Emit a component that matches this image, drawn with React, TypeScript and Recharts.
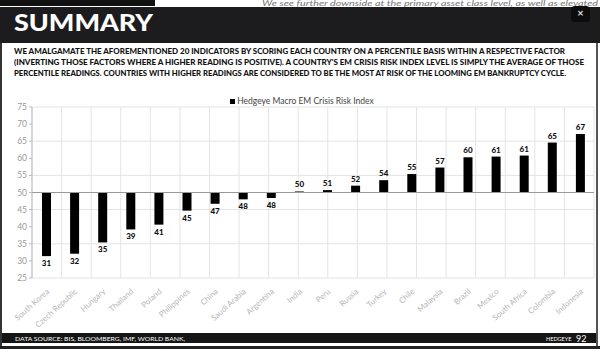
import React from 'react';
import { BarChart, Bar, XAxis, YAxis, CartesianGrid, Legend, LabelList, ReferenceLine } from 'recharts';

const countries = [
  'South Korea', 'Czech Republic', 'Hungary', 'Thailand', 'Poland', 'Philippines', 'China',
  'Saudi Arabia', 'Argentina', 'India', 'Peru', 'Russia', 'Turkey', 'Chile', 'Malaysia',
  'Brazil', 'Mexico', 'South Africa', 'Colombia', 'Indonesia',
];
const scores = [31.4, 32.1, 35.4, 39.2, 40.6, 44.7, 46.7, 48.0, 48.4, 50.3, 50.7, 52.0, 53.6, 55.4, 57.3, 60.3, 60.5, 60.8, 64.6, 67.1];
const yTicks = [25, 30, 35, 40, 45, 50, 55, 60, 65, 70, 75];
const gridTicks = Array.from({ length: countries.length + 1 }, (_, i) => i);
const BASE = 50;

const data = countries.map((name, i) => ({ name, score: scores[i], range: [BASE, scores[i]] }));

const bodyLines = [
  'WE AMALGAMATE THE AFOREMENTIONED 20 INDICATORS BY SCORING EACH COUNTRY ON A PERCENTILE BASIS WITHIN A RESPECTIVE FACTOR',
  "(INVERTING THOSE FACTORS WHERE A HIGHER READING IS POSITIVE). A COUNTRY'S EM CRISIS RISK INDEX LEVEL IS SIMPLY THE AVERAGE OF THOSE",
  'PERCENTILE READINGS. COUNTRIES WITH HIGHER READINGS ARE CONSIDERED TO BE THE MOST AT RISK OF THE LOOMING EM BANKRUPTCY CYCLE.',
];
const bodyWidths = [551, 570, 552];

const font = 'Lato, "Open Sans", sans-serif';

const ValueLabel = (props: any) => {
  const { x, y, width, height, index } = props;
  const v = scores[index];
  const top = Math.min(y, y + height);
  const bottom = Math.max(y, y + height);
  const ty = v < BASE ? bottom + 10 : top - 4;
  return (
    <text x={x + width / 2} y={ty} textAnchor="middle" fontSize={8} fontWeight={900} fill="#111" fontFamily={font}>
      {Math.round(v)}
    </text>
  );
};

const LegendContent = () => (
  <div style={{ textAlign: 'center', fontFamily: font, fontSize: 8.5, color: '#444', lineHeight: '12px' }}>
    <span style={{ display: 'inline-block', width: 5, height: 5, background: '#000', marginRight: 2, verticalAlign: 'middle' }} />
    Hedgeye Macro EM Crisis Risk Index
  </div>
);

export default function App() {
  return (
    <div style={{ position: 'fixed', left: 0, top: 0, width: 600, height: 349, background: '#fff', overflow: 'hidden', fontFamily: font }}>
      <svg width={600} height={349} style={{ position: 'absolute', left: 0, top: 0 }}>
        <text x={262} y={6} fontSize={7} fill="#777" fontStyle="italic" fontFamily={font} textLength={336} lengthAdjust="spacingAndGlyphs">
          We see further downside at the primary asset class level, as well as elevated
        </text>
        <rect x={0} y={0} width={155} height={6} fill="#111" />
        <rect x={0} y={7} width={600} height={36} fill="#1c1c1e" />
        <text x={14} y={31} fontSize={22} fontWeight={900} fill="#fff" fontFamily={font} textLength={139} lengthAdjust="spacingAndGlyphs">
          SUMMARY
        </text>
        <rect x={571} y={6} width={19} height={16} rx={4} fill="#0c0c0c" />
        <text x={580.5} y={17} fontSize={11} fontWeight={700} fill="#ddd" textAnchor="middle" fontFamily={font}>×</text>
        {bodyLines.map((t, i) => (
          <text key={i} x={14} y={54 + i * 11} fontSize={7.5} fontWeight={900} fill="#111" fontFamily={font}
            textLength={bodyWidths[i]} lengthAdjust="spacingAndGlyphs">
            {t}
          </text>
        ))}
        <rect x={0} y={43} width={2} height={306} fill="#333" />
        <rect x={596} y={43} width={2} height={306} fill="#555" />
        <rect x={2} y={333} width={594} height={10} fill="#151515" />
        <text x={15} y={341} fontSize={6.5} fill="#fff" fontFamily={font} textLength={170} lengthAdjust="spacingAndGlyphs">
          DATA SOURCE: BIS, BLOOMBERG, IMF, WORLD BANK,
        </text>
        <text x={546} y={341} fontSize={5.5} fill="#fff" fontFamily={font}>HEDGEYE</text>
        <text x={576} y={341.5} fontSize={9} fill="#fff" fontFamily={font}>92</text>
        <rect x={0} y={346} width={600} height={3} fill="#222" />
      </svg>
      <div style={{ position: 'absolute', left: 0, top: 88 }}>
        <BarChart width={600} height={245} data={data} margin={{ top: 7, right: 6, left: 10, bottom: 0 }} barSize={9}>
          <CartesianGrid stroke="#e4e4e4" xAxisId="grid" />
          <XAxis xAxisId="grid" type="number" domain={[0, countries.length]} ticks={gridTicks} hide allowDataOverflow />
          <XAxis
            dataKey="name"
            interval={0}
            axisLine={false}
            tickLine={false}
            height={55}
            tick={{ fill: '#b5b5b5', fontSize: 8, fontFamily: font }}
            angle={-42}
            textAnchor="end"
            dy={2}
          />
          <YAxis
            domain={[25, 75]}
            ticks={yTicks}
            width={22}
            tickSize={3}
            stroke="#bbb"
            tick={{ fill: '#9a9a9a', fontSize: 8.5, fontFamily: font }}
            allowDataOverflow
          />
          <Legend verticalAlign="top" align="center" content={<LegendContent />} />
          <ReferenceLine y={BASE} stroke="#999" strokeWidth={1} />
          <Bar dataKey="range" fill="#000" isAnimationActive={false}>
            <LabelList dataKey="score" content={<ValueLabel />} />
          </Bar>
        </BarChart>
      </div>
    </div>
  );
}
